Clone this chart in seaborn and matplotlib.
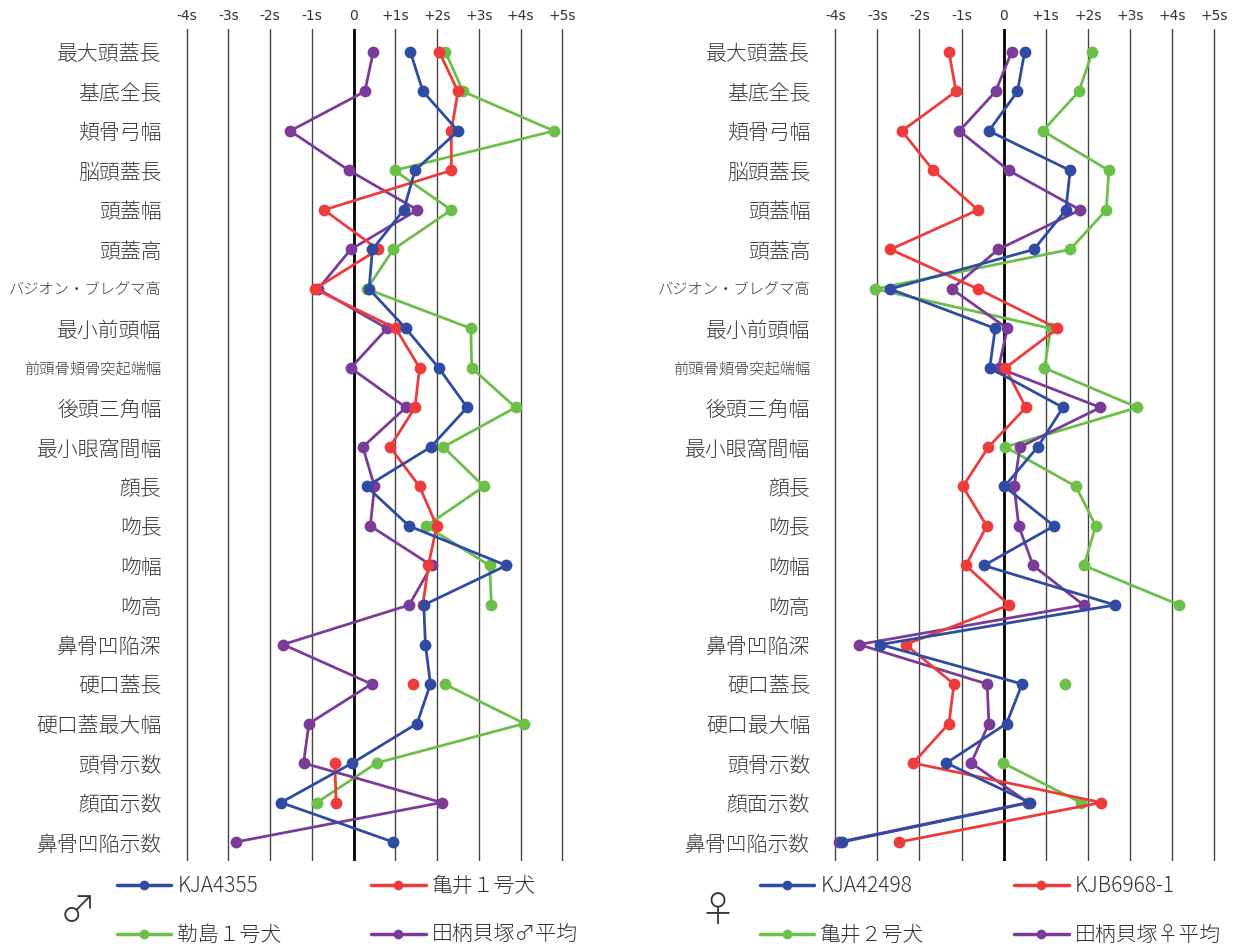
import numpy as np
import pandas as pd
import matplotlib
matplotlib.use("Agg")
import matplotlib.pyplot as plt
from matplotlib.lines import Line2D
import seaborn as sns

# --- Data (standardised deviations) ---
rows_m = ["最大頭蓋長", "基底全長", "頬骨弓幅", "脳頭蓋長", "頭蓋幅", "頭蓋高",
          "バジオン・ブレグマ高", "最小前頭幅", "前頭骨頬骨突起端幅", "後頭三角幅",
          "最小眼窩間幅", "顔長", "吻長", "吻幅", "吻高", "鼻骨凹陥深", "硬口蓋長",
          "硬口蓋最大幅", "頭骨示数", "顔面示数", "鼻骨凹陥示数"]
rows_f = rows_m[:17] + ["硬口最大幅"] + rows_m[18:]
small_labels = ["バジオン・ブレグマ高", "前頭骨頬骨突起端幅"]

x_ticks = [-4, -3, -2, -1, 0, 1, 2, 3, 4, 5]
x_labels = ["-4s", "-3s", "-2s", "-1s", "0", "+1s", "+2s", "+3s", "+4s", "+5s"]

nan = np.nan
kja4355 = [1.36, 1.66, 2.5, 1.47, 1.2, 0.45, 0.37, 1.25, 2.04, 2.72, 1.85,
           0.31, 1.33, 3.66, 1.68, 1.72, 1.84, 1.52, -0.03, -1.74, 0.95]
kamei1 = [2.05, 2.5, 2.34, 2.34, -0.71, 0.59, -0.93, 1.01, 1.58, 1.47, 0.87,
          1.58, 1.99, 1.79, 1.66, nan, 1.42, nan, -0.45, -0.42, nan]
rukdo1 = [2.2, 2.62, 4.8, 0.98, 2.34, 0.95, 0.32, 2.81, 2.83, 3.88, 2.15,
          3.12, 1.74, 3.26, 3.3, nan, 2.18, 4.09, 0.55, -0.88, nan]
tagara_m = [0.47, 0.27, -1.52, -0.11, 1.53, -0.07, -0.85, 0.8, -0.07, 1.25, 0.22,
            0.5, 0.4, 1.87, 1.33, -1.69, 0.43, -1.07, -1.2, 2.11, -2.83]

kja42498 = [0.5, 0.33, -0.35, 1.58, 1.48, 0.72, -2.7, -0.2, -0.33, 1.41, 0.81,
            0.02, 1.2, -0.47, 2.65, -2.93, 0.44, 0.07, -1.36, 0.62, -3.84]
kjb6968 = [-1.3, -1.13, -2.42, -1.67, -0.61, -2.69, -0.61, 1.28, 0.04, 0.53, -0.36,
           -0.97, -0.4, -0.9, 0.13, -2.33, -1.18, -1.3, -2.15, 2.32, -2.48]
kamei2 = [2.11, 1.79, 0.93, 2.5, 2.44, 1.58, -3.05, 1.12, 0.97, 3.18, 0.04,
          1.72, 2.19, 1.91, 4.18, nan, 1.46, nan, -0.01, 1.83, nan]
tagara_f = [0.19, -0.19, -1.05, 0.12, 1.82, -0.13, -1.23, 0.09, -0.12, 2.3, 0.39,
            0.25, 0.36, 0.7, 1.9, -3.44, -0.39, -0.35, -0.77, 0.58, -3.92]

male = {"KJA4355": kja4355, "亀井１号犬": kamei1,
        "勒島１号犬": rukdo1, "田柄貝塚♂平均": tagara_m}
female = {"KJA42498": kja42498, "KJB6968-1": kjb6968,
          "亀井２号犬": kamei2, "田柄貝塚♀平均": tagara_f}

BLUE, RED, GREEN, PURPLE = "#2F4BA2", "#EE3B3B", "#6CC04A", "#7A3C98"
colors = [BLUE, RED, GREEN, PURPLE]


def long_frame(series):
    """Long table; a NaN breaks a line into separate segments (units)."""
    parts = []
    for name, vals in series.items():
        d = pd.DataFrame({"val": vals, "row": np.arange(len(vals))})
        d["seg"] = d["val"].isna().cumsum()
        d = d.dropna()
        d["series"] = name
        d["unit"] = name + "_" + d["seg"].astype(str)
        parts.append(d)
    return pd.concat(parts, ignore_index=True)


sns.set_style("white")
plt.rcParams["font.family"] = ["Noto Sans CJK JP", "DejaVu Sans"]

W, H = 1255, 951
fig = plt.figure(figsize=(W / 100, H / 100), dpi=100)

# axes placed in pixels: (-4 px, +5 px)
panels = [
    (male, rows_m, 186.7, 562.3, "♂", 78, 117),
    (female, rows_f, 835.3, 1214.0, "♀", 718, 760),
]
top_px, bot_px = 29, 861

for series, rows, xm4, xp5, sym, sym_x, leg_x in panels:
    unit = (xp5 - xm4) / 9
    left = xm4 - 0.1 * unit
    width = 9.2 * unit
    ax = fig.add_axes([left / W, 1 - bot_px / H, width / W, (bot_px - top_px) / H])

    names = list(series.keys())
    pal = dict(zip(names, colors))
    # draw order: green, purple, red, blue (blue on top)
    order = [names[2], names[3], names[1], names[0]]
    df = long_frame(series)

    for x in x_ticks:
        if x == 0:
            ax.axvline(x, color="black", lw=2.0, zorder=1)
        else:
            ax.axvline(x, color="#444444", lw=1.0, zorder=1)

    sns.lineplot(data=df, x="val", y="row", hue="series", hue_order=order,
                 palette=pal, units="unit", estimator=None, sort=False,
                 marker="o", markersize=8.5, markeredgewidth=0, lw=2.0,
                 legend=False, ax=ax, zorder=3)

    ax.set_xlim(-4.1, 5.1)
    ax.set_ylim(len(rows) - 1 + 0.48, -0.58)
    ax.xaxis.tick_top()
    ax.set_xticks(x_ticks)
    ax.set_xticklabels(x_labels, fontsize=10, color="#333333", family="DejaVu Sans")
    ax.set_yticks(range(len(rows)))
    ax.set_yticklabels(rows, color="#3a3a3a", fontweight="light")
    for lab in ax.get_yticklabels():
        lab.set_fontsize(11 if lab.get_text() in small_labels else 15)
    ax.tick_params(axis="both", length=0)
    ax.tick_params(axis="y", pad=15)
    ax.tick_params(axis="x", pad=4)
    ax.set_xlabel("")
    ax.set_ylabel("")
    for sp in ax.spines.values():
        sp.set_visible(False)

    handles = [Line2D([], [], color=pal[n], lw=2.5, marker="o", markersize=7,
                      markeredgewidth=0) for n in names]
    # ncol=2 fills column-wise -> reorder so rows read blue/red, green/purple
    h_ord = [handles[0], handles[2], handles[1], handles[3]]
    n_ord = [names[0], names[2], names[1], names[3]]
    leg = fig.legend(h_ord, n_ord, loc="upper left",
                     bbox_to_anchor=(leg_x / W, 1 - 875 / H),
                     bbox_transform=fig.transFigure, ncol=2, frameon=False,
                     fontsize=15, handlelength=2.6, handletextpad=0.3,
                     columnspacing=4.3, labelspacing=1.3, borderpad=0,
                     borderaxespad=0)
    for t in leg.get_texts():
        t.set_color("#333333")
        t.set_fontweight("light")

    fig.text(sym_x / W, 1 - 912 / H, sym, fontsize=26, color="#333333",
             ha="center", va="center",
             family=["Noto Sans CJK JP", "DejaVu Sans"], fontweight="light")

fig.savefig("out.png", dpi=100)
